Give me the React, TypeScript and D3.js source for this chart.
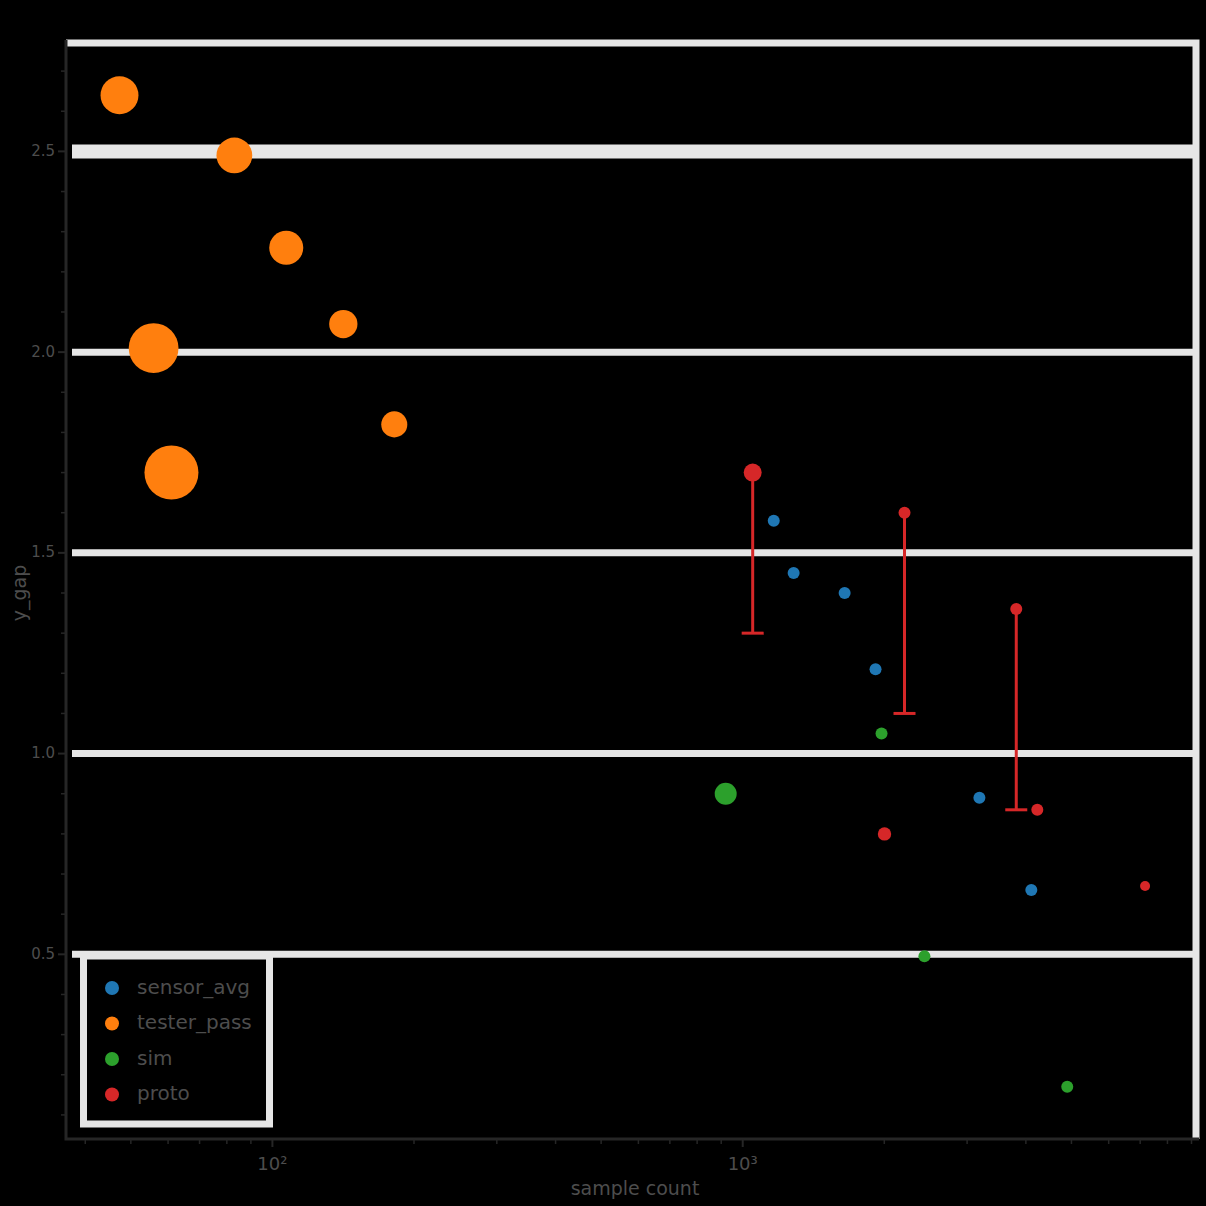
import { useRef, useEffect } from 'react';
import * as d3 from 'd3';

// series: x = sample count (log), y = score, s = marker size weight
const sensorX = [1164, 1283, 1647, 1916, 3186, 4108];
const sensorY = [1.58, 1.45, 1.40, 1.21, 0.89, 0.66];
const sensorS = [0.36, 0.36, 0.36, 0.36, 0.36, 0.36];

const testerX = [47.3, 83.0, 107, 141.5, 55.9, 181.6, 61.0];
const testerY = [2.64, 2.49, 2.26, 2.07, 2.01, 1.82, 1.70];
const testerS = [3.6, 3.2, 2.9, 2.0, 6.2, 1.7, 7.3];

const simX = [920, 1973, 2434, 4898];
const simY = [0.90, 1.05, 0.495, 0.17];
const simS = [1.21, 0.36, 0.36, 0.36];

const protoX = [1050, 2208, 3816, 4230, 2002, 7170];
const protoY = [1.70, 1.60, 1.36, 0.86, 0.80, 0.67];
const protoS = [0.81, 0.36, 0.36, 0.36, 0.45, 0.25];
const protoLow = [1.30, 1.10, 0.86, null, null, null];

const seriesNames = ['sensor_avg', 'tester_pass', 'sim', 'proto'];
const seriesColors = ['#1f77b4', '#ff7f0e', '#2ca02c', '#d62728'];

const xMajor = [100, 1000];
const xMajorLabels = ['10²', '10³'];
const xMinor = [40, 50, 60, 70, 80, 90, 200, 300, 400, 500, 600, 700, 800, 900, 2000, 3000, 4000, 5000, 6000, 7000, 8000, 9000];
const yMajor = [0.5, 1.0, 1.5, 2.0, 2.5];
const yMajorLabels = ['0.5', '1.0', '1.5', '2.0', '2.5'];
const yMinor = [0.1, 0.2, 0.3, 0.4, 0.6, 0.7, 0.8, 0.9, 1.1, 1.2, 1.3, 1.4, 1.6, 1.7, 1.8, 1.9, 2.1, 2.2, 2.3, 2.4, 2.6, 2.7];

export default function App() {
  const svgRef = useRef<SVGSVGElement>(null);

  useEffect(() => {
    if (!svgRef.current) return;
    const svg = d3.select(svgRef.current);
    svg.selectAll('*').remove();

    const left = 66, right = 1196, top = 43, bottom = 1139;
    const x = d3.scaleLog().domain([36.4, 9200]).range([left, right]);
    const y = d3.scaleLinear().domain([0.04, 2.77]).range([bottom, top]);
    const r = d3.scaleSqrt().domain([0, 7.3]).range([0, 27]);
    const grid = '#e6e6e6';
    const axisCol = '#262626';
    const textCol = '#4d4d4d';

    // gridlines
    yMajor.forEach((v, i) => {
      svg.append('line')
        .attr('x1', left + 6).attr('x2', right)
        .attr('y1', y(v)).attr('y2', y(v))
        .attr('stroke', grid)
        .attr('stroke-width', i === yMajor.length - 1 ? 14 : 7);
    });

    // frame (top + right)
    svg.append('path')
      .attr('d', `M${left},${top} H${right} V${bottom}`)
      .attr('fill', 'none')
      .attr('stroke', grid)
      .attr('stroke-width', 7);

    // spines
    svg.append('path')
      .attr('d', `M${left},${top - 3} V${bottom} H${right + 3}`)
      .attr('fill', 'none')
      .attr('stroke', axisCol)
      .attr('stroke-width', 3);

    // x ticks
    xMajor.forEach((v, i) => {
      svg.append('line')
        .attr('x1', x(v)).attr('x2', x(v))
        .attr('y1', bottom).attr('y2', bottom + 8)
        .attr('stroke', axisCol).attr('stroke-width', 2);
      svg.append('text')
        .attr('x', x(v)).attr('y', bottom + 31)
        .attr('text-anchor', 'middle')
        .attr('font-family', 'DejaVu Sans')
        .attr('font-size', '18px')
        .attr('fill', textCol)
        .text(xMajorLabels[i]);
    });
    xMinor.forEach((v) => {
      svg.append('line')
        .attr('x1', x(v)).attr('x2', x(v))
        .attr('y1', bottom).attr('y2', bottom + 5)
        .attr('stroke', axisCol).attr('stroke-width', 1.5);
    });

    // y ticks
    yMajor.forEach((v, i) => {
      svg.append('line')
        .attr('x1', left).attr('x2', left - 8)
        .attr('y1', y(v)).attr('y2', y(v))
        .attr('stroke', axisCol).attr('stroke-width', 2);
      svg.append('text')
        .attr('x', left - 11).attr('y', y(v))
        .attr('text-anchor', 'end')
        .attr('dominant-baseline', 'middle')
        .attr('font-family', 'DejaVu Sans')
        .attr('font-size', '15px')
        .attr('fill', textCol)
        .text(yMajorLabels[i]);
    });
    yMinor.forEach((v) => {
      svg.append('line')
        .attr('x1', left).attr('x2', left - 5)
        .attr('y1', y(v)).attr('y2', y(v))
        .attr('stroke', axisCol).attr('stroke-width', 1.5);
    });

    // axis titles
    svg.append('text')
      .attr('x', (left + right) / 2 + 4).attr('y', bottom + 56)
      .attr('text-anchor', 'middle')
      .attr('font-family', 'DejaVu Sans')
      .attr('font-size', '19px')
      .attr('fill', textCol)
      .text('sample count');
    svg.append('text')
      .attr('transform', `translate(26,${y(1.4)}) rotate(-90)`)
      .attr('text-anchor', 'middle')
      .attr('font-family', 'DejaVu Sans')
      .attr('font-size', '19px')
      .attr('fill', textCol)
      .text('y_gap');

    // error bars (lower only)
    protoX.forEach((v, i) => {
      const lo = protoLow[i];
      if (lo == null) return;
      svg.append('line')
        .attr('x1', x(v)).attr('x2', x(v))
        .attr('y1', y(protoY[i])).attr('y2', y(lo))
        .attr('stroke', seriesColors[3]).attr('stroke-width', 3);
      svg.append('line')
        .attr('x1', x(v) - 11).attr('x2', x(v) + 11)
        .attr('y1', y(lo)).attr('y2', y(lo))
        .attr('stroke', seriesColors[3]).attr('stroke-width', 3);
    });

    const groups = [
      { xs: sensorX, ys: sensorY, ss: sensorS },
      { xs: testerX, ys: testerY, ss: testerS },
      { xs: simX, ys: simY, ss: simS },
      { xs: protoX, ys: protoY, ss: protoS },
    ];
    groups.forEach((g, gi) => {
      svg.append('g')
        .selectAll('circle')
        .data(g.xs.map((v, i) => ({ x: v, y: g.ys[i], s: g.ss[i] })))
        .join('circle')
        .attr('cx', (d) => x(d.x))
        .attr('cy', (d) => y(d.y))
        .attr('r', (d) => r(d.s))
        .attr('fill', seriesColors[gi]);
    });

    // legend
    const lx = 83.5, ly = 956;
    svg.append('rect')
      .attr('x', lx).attr('y', ly)
      .attr('width', 186).attr('height', 168)
      .attr('fill', '#000')
      .attr('stroke', grid)
      .attr('stroke-width', 7);
    seriesNames.forEach((name, i) => {
      const cy = ly + 32 + i * 35.5;
      svg.append('circle')
        .attr('cx', 112).attr('cy', cy)
        .attr('r', 7)
        .attr('fill', seriesColors[i]);
      svg.append('text')
        .attr('x', 137).attr('y', cy)
        .attr('dominant-baseline', 'middle')
        .attr('font-family', 'DejaVu Sans')
        .attr('font-size', '20px')
        .attr('fill', textCol)
        .text(name);
    });
  }, []);

  return (
    <div style={{ position: 'fixed', inset: 0, background: '#000' }}>
      <svg ref={svgRef} width={1206} height={1206} style={{ display: 'block' }} />
    </div>
  );
}
